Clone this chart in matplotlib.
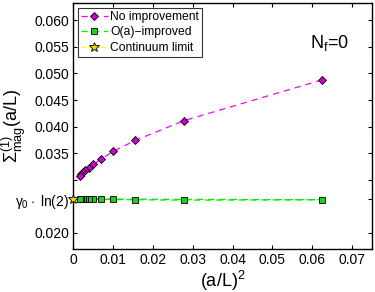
import numpy as np
import matplotlib
matplotlib.use("Agg")
import matplotlib.pyplot as plt

plt.rcParams['font.family'] = ['Liberation Sans', 'DejaVu Sans']
plt.rcParams['mathtext.fontset'] = 'custom'
plt.rcParams['mathtext.rm'] = 'Liberation Sans'
plt.rcParams['mathtext.it'] = 'Liberation Sans'

# L/a = 4, 6, ..., 24
L_over_a = [4, 6, 8, 10, 12, 14, 16, 18, 20, 22, 24]
x_vals = [1.0 / L**2 for L in L_over_a]
no_improv = [0.0488, 0.0411, 0.0374, 0.0353, 0.0338, 0.0329, 0.0322, 0.0318, 0.0314, 0.0310, 0.0306]
oa_improv = [0.02620, 0.02612, 0.02620, 0.02625, 0.02628, 0.02630, 0.02631, 0.02632, 0.02633, 0.02633, 0.02634]
gamma0_ln2 = 3.0 / (8 * np.pi**2) * np.log(2)

fig = plt.figure(figsize=(3.75, 2.92), dpi=100)
ax = fig.add_axes([0.195, 0.147, 0.797, 0.843])

ax.plot(x_vals, no_improv, linestyle='--', color='#ff00ff', lw=0.9, marker='D', markersize=4.5,
        markerfacecolor='#cc00cc', markeredgecolor='black', markeredgewidth=0.6,
        dashes=(5, 4), label='No improvement')
ax.plot([0] + x_vals, [gamma0_ln2] + oa_improv, linestyle='--', color='#00ee00', lw=0.9,
        dashes=(5, 4), markevery=list(range(1, len(x_vals) + 1)), marker='s', markersize=4,
        markerfacecolor='#22cc22', markeredgecolor='black', markeredgewidth=0.6,
        label='O(a)\u2212improved')
ax.plot([0], [gamma0_ln2], linestyle='--', color='#ffff00', lw=0.9, marker='*', markersize=7,
        markerfacecolor='#dddd00', markeredgecolor='black', markeredgewidth=0.6,
        clip_on=False, zorder=5, label='Continuum limit')

ax.set_xlim(0, 0.075)
ax.set_ylim(0.0169, 0.0633)
ax.set_xticks([0, 0.01, 0.02, 0.03, 0.04, 0.05, 0.06, 0.07])
ax.set_xticklabels(['0', '0.01', '0.02', '0.03', '0.04', '0.05', '0.06', '0.07'])
yt = [0.020, gamma0_ln2, 0.030, 0.035, 0.040, 0.045, 0.050, 0.055, 0.060]
ax.set_yticks(yt)
ax.set_yticklabels(['0.020', r'$\gamma_0\cdot$ ln(2)', '', '0.035', '0.040', '0.045',
                    '0.050', '0.055', '0.060'])
ax.tick_params(direction='in', top=True, right=True, labelsize=10, length=3, width=0.8, pad=3)
for s in ax.spines.values():
    s.set_linewidth(1.0)

ax.set_xlabel(r'(a/L)$^2$', fontsize=13, labelpad=1)
ax.set_ylabel(r'$\Sigma^{(1)}_{\rm mag}$(a/L)', fontsize=13)
ax.yaxis.set_label_coords(-0.15, 0.5)
ax.text(0.0595, 0.0558, r'N$_{\rm f}$=0', fontsize=13, va='center')

leg = ax.legend(loc='upper left', fontsize=8.7, frameon=True, fancybox=False,
                edgecolor='black', borderpad=0.25, labelspacing=0.3, handlelength=2.2,
                handletextpad=0.2, borderaxespad=0.4)
leg.get_frame().set_linewidth(0.8)

fig.savefig('out.png', dpi=100)
